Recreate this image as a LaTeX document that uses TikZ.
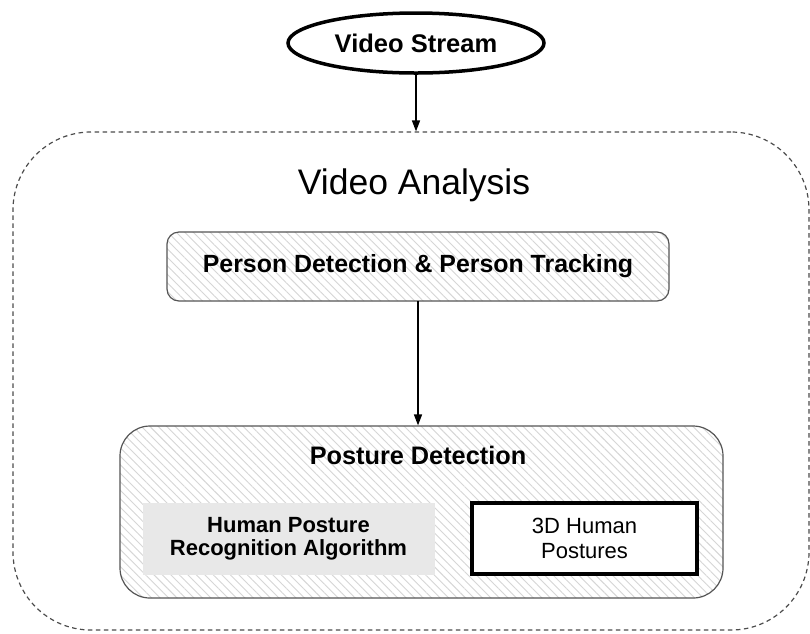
\documentclass[tikz,border=0pt]{standalone}
\usepackage{fontspec}
\setmainfont{Liberation Sans}
\usetikzlibrary{shapes.geometric,patterns.meta,arrows.meta}
\definecolor{boxline}{HTML}{555555}
\definecolor{hatch}{HTML}{D6D6D6}
\definecolor{graybox}{HTML}{E8E8E8}
\begin{document}
\begin{tikzpicture}[x=1pt,y=-1pt,
  hatched/.style={draw=boxline, line width=1.2pt,
    preaction={fill=white},
    pattern={Lines[angle=-45,distance=6pt,line width=0.9pt]}, pattern color=hatch},
  arr/.style={line width=1.5pt, -{Triangle[length=11pt,width=8pt]}},
  every node/.style={inner sep=0pt, align=center}]
\useasboundingbox (0,0) rectangle (810,633);

\node[ellipse, draw, line width=3.5pt, minimum width=256pt, minimum height=60pt,
  font=\fontsize{25.5}{28}\selectfont\bfseries] (vs) at (416,43) {Video Stream};

\node[draw=black!70, line width=1.2pt, dash pattern=on 4.5pt off 3.5pt,
  rounded corners=78pt, minimum width=796pt, minimum height=498pt] (va) at (411,381) {};

\node[font=\fontsize{35.5}{40}\selectfont] (title) at (414,185) {Video Analysis};

\node[hatched, rounded corners=12pt, minimum width=502pt, minimum height=69pt,
  font=\fontsize{24.9}{28}\selectfont\bfseries] (pd) at (418,266.5) {Person Detection \& Person Tracking};

\node[hatched, rounded corners=30pt, minimum width=603pt, minimum height=172pt] (pt) at (421.5,512) {};
\node[font=\fontsize{25.3}{28}\selectfont\bfseries] (pttitle) at (418,455) {Posture Detection};

\node[fill=graybox, draw=graybox!90!black!50, line width=0.5pt, minimum width=291pt, minimum height=71pt,
  font=\fontsize{22}{23.5}\selectfont\bfseries] (hp) at (288.5,538.5) {Human Posture\\Recognition Algorithm};

\node[fill=white, draw=black, line width=4pt, minimum width=225pt, minimum height=71pt,
  font=\fontsize{22}{24.5}\selectfont] (hd) at (584.5,538.5) {3D Human\\Postures};

\draw[arr] (vs.south) -- (vs.south |- va.north);
\draw[arr] (pd.south) -- (pd.south |- pt.north);
\end{tikzpicture}
\end{document}
